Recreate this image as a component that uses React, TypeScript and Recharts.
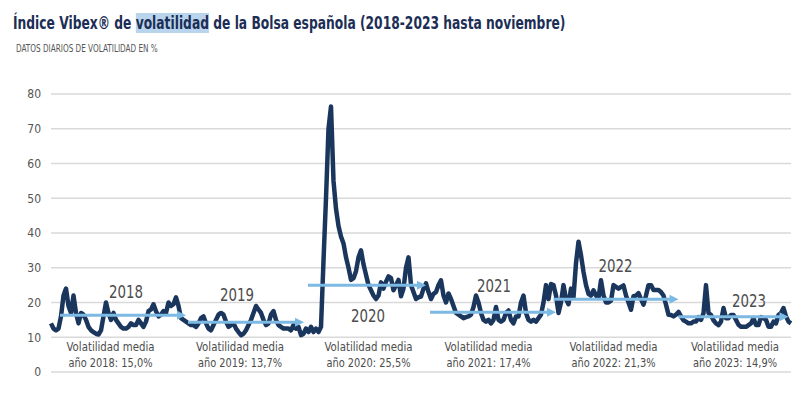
import {
  LineChart,
  Line,
  XAxis,
  YAxis,
  CartesianGrid,
  ReferenceLine,
  ReferenceDot,
} from "recharts";

// Vibex, roughly one reading per week from Jan 2018 to Nov 2023
const vibex = [
  14, 12.5, 12, 12.5, 16, 22, 24, 19, 17, 22, 17, 14, 17, 16.5, 15, 13,
  12, 11.5, 11, 10.8, 12, 16, 20, 17, 15, 17, 15, 14, 13, 12.5, 12.5, 13,
  14, 13.5, 13.5, 15, 14, 13, 14.5, 17.5, 18, 19.5, 17.5, 16, 16.5, 17.5, 17, 20,
  19, 19.5, 21.5, 19, 15.5, 15, 14.5, 14, 13.5, 13.5, 13, 14, 15.5, 16, 14, 12.5,
  12, 13.5, 15, 16.5, 17, 16.5, 14.5, 13, 13.5, 14, 12.5, 11.5, 10.6, 11, 12, 13.5,
  15, 17, 19, 18, 17, 15, 13.5, 14, 16.5, 17.5, 15, 13.5, 13, 12.5, 12.5, 12.5,
  12, 13.5, 12.5, 13, 10.6, 11, 12.5, 11.5, 13, 11.5, 12.5, 11.5, 13, 32, 50, 70,
  76.4, 55, 47, 42, 39, 37, 33, 30, 26.5, 27, 29, 33, 35, 31, 28, 25,
  23.5, 22, 21, 22, 25.8, 24, 26, 27.5, 27, 23.5, 25, 26.5, 21.8, 24, 30, 33,
  25, 23, 21, 21.5, 21.7, 24, 25.5, 23, 21, 22.5, 23, 25, 26.4, 22, 20, 22.6,
  21, 19, 17, 16.5, 16, 15.5, 15.8, 16, 16.5, 18.7, 22, 20, 17, 15, 14.5, 15,
  14, 15, 18.7, 15, 14.5, 15, 17, 17.7, 15, 14, 16, 16, 20, 22, 17, 15,
  14.5, 15, 14.5, 15.5, 16.5, 20, 25, 21, 25.3, 25, 22, 17, 20, 25, 21, 19.5,
  24, 21.5, 31.3, 37.5, 33.6, 28.8, 25, 22.5, 22, 23.5, 22, 21.3, 26.4, 22, 20, 20,
  20.5, 25, 24.5, 24, 24.5, 24.9, 22, 20, 17.9, 21.8, 22, 22.7, 21, 19.4, 22, 25,
  25, 23.6, 23.6, 23.6, 23, 22, 19.4, 16.5, 16.4, 16, 16.5, 17.3, 16, 14.9, 14.5, 14,
  14, 14.5, 14.5, 15.8, 15, 16.9, 25, 17, 16.4, 14.9, 14, 13.5, 14.5, 18.4, 15.5, 15.5,
  16.4, 16.4, 15, 13.6, 13, 13, 13, 13.5, 14, 15.5, 13.5, 13.5, 15.8, 15.5, 15, 13,
  13, 14.5, 14, 16.4, 17, 18.4, 16, 14.5, 14,
];

const years = ["2018", "2019", "2020", "2021", "2022", "2023"];
const yearAverages = ["15,0%", "13,7%", "25,5%", "17,4%", "21,3%", "14,9%"];
const yTicks = [0, 10, 20, 30, 40, 50, 60, 70, 80];

// annotation anchors, in (week, value) units
const arrowFrom = [3.6, 54.8, 102.8, 151.6, 201, 251];
const arrowTo = [54, 101.2, 150, 202, 251, 295];
const arrowLevel = [16.3, 14.3, 25.0, 17.2, 20.9, 15.9];
const yearLabelWeek = [30, 74.4, 126.8, 177.2, 225.8, 279.2];
const yearLabelValue = [21.4, 20.5, 14.4, 23.05, 28.8, 18.7];
const avgLabelWeek = [23.8, 75.6, 127, 175, 225, 273.6];

const chartData = vibex.map((v, i) => ({ week: i, v }));

const NARROW = '"DejaVu Sans Condensed", "DejaVu Sans", sans-serif';
const ARROW = "#7cb9e3";
const GREY = "#4d4d4d";

const Arrow = (p: any) => {
  const { x1, y1, x2, y2 } = p;
  const head = 9;
  return (
    <g>
      <line x1={x1} y1={y1} x2={x2 - head + 1} y2={y2} stroke={ARROW} strokeWidth={3} />
      <polygon
        points={`${x2},${y2} ${x2 - head},${y2 - 4.5} ${x2 - head},${y2 + 4.5}`}
        fill={ARROW}
      />
    </g>
  );
};

const yearText = (label: string) => (p: any) => (
  <text
    x={p.cx}
    y={p.cy}
    textAnchor="middle"
    fill={GREY}
    fontSize={18}
    fontFamily={NARROW}
    textLength={34}
    lengthAdjust="spacingAndGlyphs"
  >
    {label}
  </text>
);

const avgText = (year: string, avg: string) => (p: any) => (
  <text x={p.cx} y={p.cy} textAnchor="middle" fill={GREY} fontSize={13} fontFamily={NARROW}>
    <tspan x={p.cx} textLength={88} lengthAdjust="spacingAndGlyphs">
      Volatilidad media
    </tspan>
    <tspan x={p.cx} dy={16} textLength={84} lengthAdjust="spacingAndGlyphs">
      {`año ${year}: ${avg}`}
    </tspan>
  </text>
);

export default function App() {
  return (
    <div style={{ position: "absolute", left: 0, top: 0, width: 804, height: 396, background: "#fff" }}>
      <div
        style={{
          position: "absolute",
          left: 13,
          top: 13,
          fontFamily: NARROW,
          fontWeight: 700,
          fontSize: 17,
          color: "#1c2e55",
          whiteSpace: "nowrap",
          transform: "scaleX(0.803)",
          transformOrigin: "left top",
        }}
      >
        Índice Vibex® de <span style={{ background: "#b9d5ee" }}>volatilidad</span> de la Bolsa española
        (2018-2023 hasta noviembre)
      </div>
      <div
        style={{
          position: "absolute",
          left: 16,
          top: 43,
          fontFamily: NARROW,
          fontSize: 10,
          color: "#555",
          whiteSpace: "nowrap",
          transform: "scaleX(0.81)",
          transformOrigin: "left top",
        }}
      >
        DATOS DIARIOS DE VOLATILIDAD EN %
      </div>
      <LineChart
        width={804}
        height={396}
        data={chartData}
        margin={{ top: 94, right: 13, bottom: 24, left: 0 }}
      >
        <CartesianGrid vertical={false} stroke="#d9d9d9" strokeWidth={1.5} />
        <XAxis dataKey="week" type="number" domain={[0, vibex.length - 1]} hide />
        <YAxis
          domain={[0, 80]}
          ticks={yTicks}
          width={51}
          axisLine={false}
          tickLine={false}
          tickSize={0}
          tickMargin={10}
          tick={{ fill: "#555", fontSize: 12, fontFamily: NARROW }}
        />
        <Line
          type="linear"
          dataKey="v"
          stroke="#1b365d"
          strokeWidth={4.5}
          strokeLinejoin="round"
          dot={false}
          isAnimationActive={false}
        />
        {years.map((y, i) => (
          <ReferenceLine
            key={"a" + y}
            segment={[
              { x: arrowFrom[i], y: arrowLevel[i] },
              { x: arrowTo[i], y: arrowLevel[i] },
            ]}
            shape={Arrow}
          />
        ))}
        {years.map((y, i) => (
          <ReferenceDot
            key={"y" + y}
            x={yearLabelWeek[i]}
            y={yearLabelValue[i]}
            r={0}
            shape={yearText(y)}
          />
        ))}
        {years.map((y, i) => (
          <ReferenceDot
            key={"m" + y}
            x={avgLabelWeek[i]}
            y={6}
            r={0}
            shape={avgText(y, yearAverages[i])}
          />
        ))}
      </LineChart>
    </div>
  );
}
